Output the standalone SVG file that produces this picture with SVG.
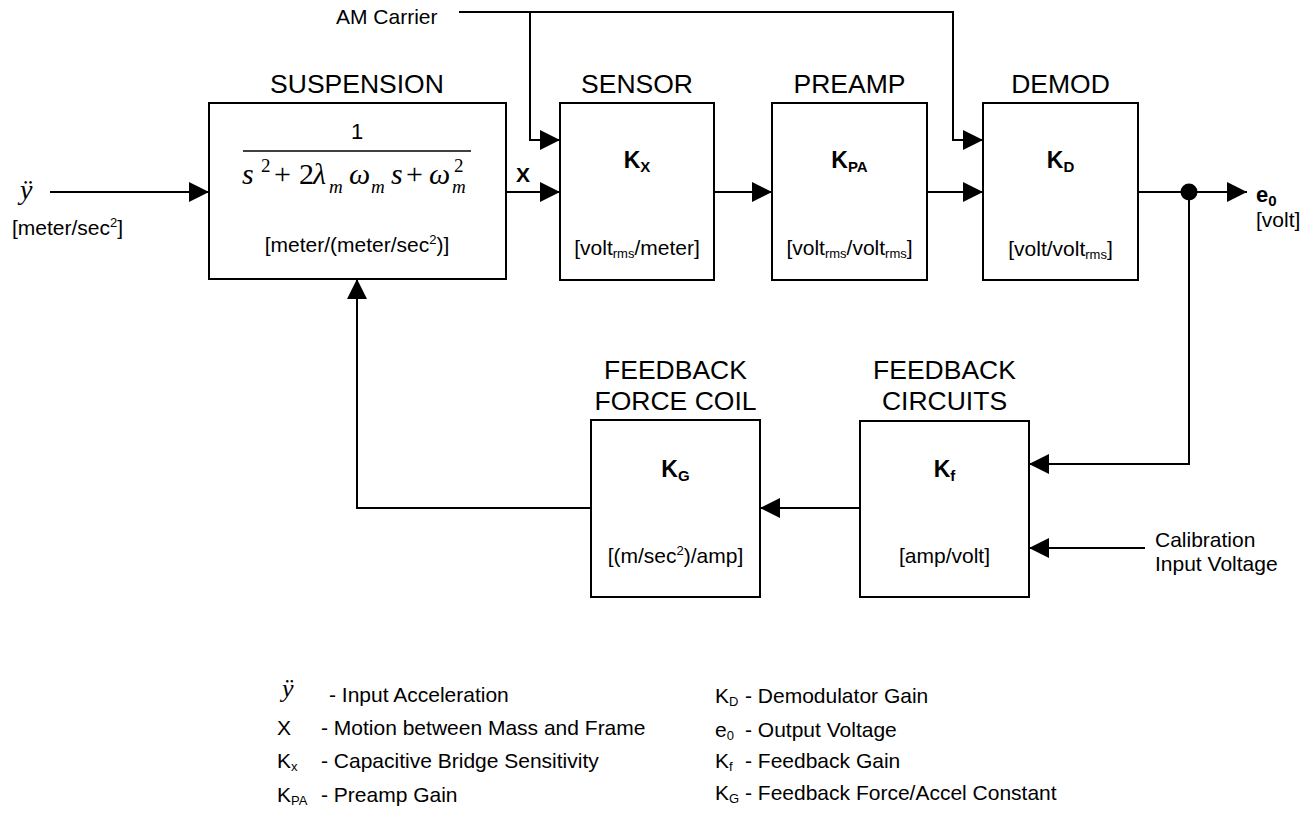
<svg xmlns="http://www.w3.org/2000/svg" width="1313" height="817" viewBox="0 0 1313 817">
<style>
.box{fill:#fff;stroke:#000;stroke-width:2}
.ln{fill:none;stroke:#000;stroke-width:2}
.t{font-family:"Liberation Sans",Arial,sans-serif;fill:#000}
.hd{font-size:26.5px;text-anchor:middle}
.u{font-size:21px;text-anchor:middle}
.k{font-size:23px;font-weight:bold;text-anchor:middle}
.lg{font-size:21px}
.m{font-family:"Liberation Serif","Times New Roman",serif;fill:#000}
.it{font-style:italic}
.big{font-size:30px}
.sm{font-size:19px}
</style>
<defs>
<marker id="ah" markerUnits="userSpaceOnUse" markerWidth="20" markerHeight="20" refX="20" refY="10" orient="auto">
<path d="M0,0 L20,10 L0,20 z" fill="#000"/>
</marker>
</defs>
<rect width="1313" height="817" fill="#fff"/>

<g id="connectors">
<path class="ln" d="M50,192 H209" marker-end="url(#ah)"/>
<path class="ln" d="M506,192 H560" marker-end="url(#ah)"/>
<path class="ln" d="M714,192 H772" marker-end="url(#ah)"/>
<path class="ln" d="M927,192 H983" marker-end="url(#ah)"/>
<path class="ln" d="M459,12 H953 V140 H983" marker-end="url(#ah)"/>
<path class="ln" d="M530,12 V140 H560" marker-end="url(#ah)"/>
<path class="ln" d="M1138,192 H1247" marker-end="url(#ah)"/>
<circle cx="1189" cy="192" r="8.5" fill="#000"/>
<path class="ln" d="M1189,192 V464 H1029" marker-end="url(#ah)"/>
<path class="ln" d="M1145,548 H1029" marker-end="url(#ah)"/>
<path class="ln" d="M860,508 H760" marker-end="url(#ah)"/>
<path class="ln" d="M591,508 H357 V279" marker-end="url(#ah)"/>
</g>

<g id="input">
<text class="m it" x="20" y="199" font-size="28">ÿ</text>
<text class="t" x="12" y="235" font-size="21">[meter/sec<tspan font-size="13" dy="-8">2</tspan><tspan dy="8">]</tspan></text>
</g>

<g id="am-carrier">
<text class="t" x="336" y="24" font-size="21">AM Carrier</text>
</g>

<g id="suspension">
<text class="t hd" x="357" y="93">SUSPENSION</text>
<rect class="box" x="209" y="103" width="297" height="176"/>
<text class="t" x="357" y="139" font-size="22" text-anchor="middle">1</text>
<line x1="243" y1="151" x2="471" y2="151" stroke="#000" stroke-width="1.5"/>
<text class="m it big" x="242" y="184">s</text>
<text class="m sm" x="261" y="172">2</text>
<text class="m big" x="274" y="184">+</text>
<text class="m big" x="299" y="184">2</text>
<text class="m it big" x="313" y="184">λ</text>
<text class="m it sm" x="329" y="193">m</text>
<text class="m it big" x="349" y="184">ω</text>
<text class="m it sm" x="371" y="193">m</text>
<text class="m it big" x="391" y="184">s</text>
<text class="m big" x="406" y="184">+</text>
<text class="m it big" x="429" y="184">ω</text>
<text class="m sm" x="454" y="172">2</text>
<text class="m it sm" x="452" y="193">m</text>
<text class="t u" x="357" y="252">[meter/(meter/sec<tspan font-size="13" dy="-8">2</tspan><tspan dy="8">)]</tspan></text>
</g>

<g id="x-label">
<text class="t" x="516" y="182" font-size="21" font-weight="bold">X</text>
</g>

<g id="sensor">
<text class="t hd" x="637" y="93">SENSOR</text>
<rect class="box" x="560" y="103" width="154" height="177"/>
<text class="t k" x="637" y="168">K<tspan font-size="15" dy="4">X</tspan></text>
<text class="t u" x="637" y="255">[volt<tspan font-size="13" dy="3">rms</tspan><tspan dy="-3">/meter]</tspan></text>
</g>

<g id="preamp">
<text class="t hd" x="849.5" y="93">PREAMP</text>
<rect class="box" x="772" y="103" width="155" height="177"/>
<text class="t k" x="849.5" y="168">K<tspan font-size="15" dy="4">PA</tspan></text>
<text class="t u" x="849.5" y="255">[volt<tspan font-size="13" dy="3">rms</tspan><tspan dy="-3">/volt</tspan><tspan font-size="13" dy="3">rms</tspan><tspan dy="-3">]</tspan></text>
</g>

<g id="demod">
<text class="t hd" x="1060.5" y="93">DEMOD</text>
<rect class="box" x="983" y="103" width="155" height="177"/>
<text class="t k" x="1060.5" y="168">K<tspan font-size="15" dy="4">D</tspan></text>
<text class="t u" x="1060.5" y="256">[volt/volt<tspan font-size="13" dy="3">rms</tspan><tspan dy="-3">]</tspan></text>
</g>

<g id="output">
<text class="t" x="1256" y="202" font-size="22" font-weight="bold">e<tspan font-size="15" dy="4">0</tspan></text>
<text class="t" x="1256" y="227" font-size="21">[volt]</text>
</g>

<g id="feedback-circuits">
<text class="t hd" x="944.5" y="379">FEEDBACK</text>
<text class="t hd" x="944.5" y="410">CIRCUITS</text>
<rect class="box" x="860" y="421" width="169" height="176"/>
<text class="t k" x="944.5" y="477">K<tspan font-size="15" dy="4">f</tspan></text>
<text class="t u" x="944.5" y="563">[amp/volt]</text>
</g>

<g id="calibration">
<text class="t" x="1155" y="547" font-size="21">Calibration</text>
<text class="t" x="1155" y="571" font-size="21">Input Voltage</text>
</g>

<g id="feedback-force-coil">
<text class="t hd" x="675.5" y="379">FEEDBACK</text>
<text class="t hd" x="675.5" y="410">FORCE COIL</text>
<rect class="box" x="591" y="420" width="169" height="177"/>
<text class="t k" x="675.5" y="477">K<tspan font-size="15" dy="4">G</tspan></text>
<text class="t u" x="675.5" y="563">[(m/sec<tspan font-size="13" dy="-8">2</tspan><tspan dy="8">)/amp]</tspan></text>
</g>

<g id="legend">
<text class="m it" x="282" y="697" font-size="26">ÿ</text>
<text class="t lg" x="329" y="702">- Input Acceleration</text>
<text class="t lg" x="277" y="735">X</text>
<text class="t lg" x="321" y="735">- Motion between Mass and Frame</text>
<text class="t lg" x="277" y="768">K<tspan font-size="13" dy="3">x</tspan></text>
<text class="t lg" x="321" y="768">- Capacitive Bridge Sensitivity</text>
<text class="t lg" x="277" y="802">K<tspan font-size="13" dy="3">PA</tspan></text>
<text class="t lg" x="321" y="802">- Preamp Gain</text>
<text class="t lg" x="715" y="703">K<tspan font-size="13" dy="3">D</tspan></text>
<text class="t lg" x="745" y="703">- Demodulator Gain</text>
<text class="t lg" x="715" y="737">e<tspan font-size="13" dy="3">0</tspan></text>
<text class="t lg" x="745" y="737">- Output Voltage</text>
<text class="t lg" x="715" y="768">K<tspan font-size="13" dy="3">f</tspan></text>
<text class="t lg" x="745" y="768">- Feedback Gain</text>
<text class="t lg" x="715" y="800">K<tspan font-size="13" dy="3">G</tspan></text>
<text class="t lg" x="745" y="800">- Feedback Force/Accel Constant</text>
</g>
</svg>
